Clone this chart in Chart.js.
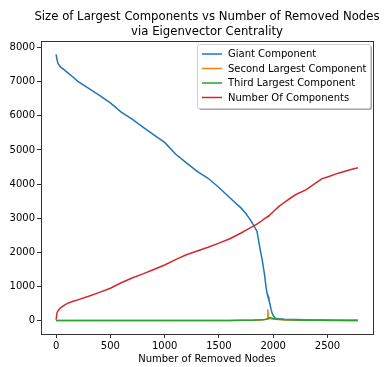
<!DOCTYPE html>
<html><head><meta charset="utf-8">
<script src="https://cdn.jsdelivr.net/npm/chart.js@4"></script>
<style>html,body{margin:0;padding:0;background:#fff}#wrap{width:384px;height:367px;position:relative}</style>
</head><body><div id="wrap"><canvas id="c" width="384" height="367"></canvas></div>
<script>
const titleLines = ['Size of Largest Components vs Number of Removed Nodes', 'via Eigenvector Centrality'];
const xAxisTitle = 'Number of Removed Nodes';
const seriesNames = ['Giant Component', 'Second Largest Component', 'Third Largest Component', 'Number Of Components'];
const seriesColors = ['#1f77b4', '#ff7f0e', '#2ca02c', '#d62728'];
const xTicks = [0, 500, 1000, 1500, 2000, 2500];
const yTicks = [0, 1000, 2000, 3000, 4000, 5000, 6000, 7000, 8000];

const removedNodes = [0, 10, 20, 40, 70, 100, 150, 200, 300, 400, 500, 600, 700, 800, 900, 1000, 1100, 1200, 1300, 1400, 1500, 1600, 1700, 1750, 1800, 1850, 1880, 1900, 1920, 1935, 1945, 1950, 1955, 1960, 1970, 1980, 1990, 2000, 2020, 2050, 2100, 2200, 2300, 2400, 2450, 2500, 2600, 2700, 2780];
const giant = [7800, 7620, 7520, 7430, 7360, 7280, 7150, 7010, 6800, 6600, 6380, 6110, 5900, 5670, 5440, 5220, 4880, 4620, 4370, 4170, 3900, 3600, 3310, 3130, 2900, 2620, 2080, 1750, 1350, 950, 780, 720, 700, 620, 480, 330, 220, 150, 70, 55, 45, 35, 28, 22, 20, 17, 14, 11, 9];
const second = [1, 2, 2, 3, 3, 3, 3, 4, 4, 4, 4, 5, 5, 5, 5, 5, 6, 6, 6, 7, 7, 8, 10, 12, 15, 20, 25, 30, 35, 40, 45, 330, 80, 70, 60, 55, 50, 45, 40, 35, 28, 20, 15, 12, 11, 10, 9, 8, 7];
const third = [1, 2, 2, 2, 3, 3, 3, 3, 3, 4, 4, 4, 4, 4, 5, 5, 5, 5, 5, 6, 6, 7, 9, 11, 14, 18, 22, 28, 35, 45, 55, 60, 70, 85, 90, 85, 75, 65, 50, 40, 28, 18, 12, 10, 9, 8, 7, 6, 5];
const numComponents = [30, 250, 300, 375, 440, 500, 560, 610, 715, 830, 950, 1110, 1250, 1370, 1500, 1630, 1790, 1930, 2040, 2150, 2270, 2400, 2560, 2650, 2740, 2830, 2890, 2940, 2990, 3020, 3040, 3050, 3060, 3075, 3100, 3130, 3160, 3190, 3250, 3340, 3460, 3680, 3830, 4050, 4160, 4210, 4320, 4410, 4480];

const seriesValues = [giant, second, third, numComponents];
const FONT = "'DejaVu Sans', sans-serif";

const decor = {
  id: 'decor',
  afterDraw(chart) {
    const ctx = chart.ctx;
    const a = chart.chartArea;
    ctx.save();
    ctx.strokeStyle = '#333';
    ctx.lineWidth = 1;
    ctx.strokeRect(Math.round(a.left) + 0.5, Math.round(a.top) + 0.5, Math.round(a.right - a.left), Math.round(a.bottom - a.top));
    ctx.fillStyle = '#000';
    ctx.font = '11.7px ' + FONT;
    ctx.textAlign = 'center';
    ctx.textBaseline = 'middle';
    const cx = (a.left + a.right) / 2;
    titleLines.forEach((t, i) => ctx.fillText(t, cx, 17 + i * 15));
    const bx = 197, by = 44, bw = 173, bh = 64;
    ctx.fillStyle = 'rgba(77,77,77,0.5)';
    ctx.beginPath(); ctx.roundRect(bx + 2, by + 2, bw, bh, 2); ctx.fill();
    ctx.fillStyle = '#fff';
    ctx.strokeStyle = '#d0d0d0';
    ctx.beginPath(); ctx.roundRect(bx + 0.5, by + 0.5, bw, bh, 2); ctx.fill(); ctx.stroke();
    ctx.font = '10px ' + FONT;
    ctx.textAlign = 'left';
    chart.data.datasets.forEach((ds, i) => {
      const y = by + 10 + i * 14.5;
      ctx.strokeStyle = ds.borderColor;
      ctx.lineWidth = 1.5;
      ctx.beginPath(); ctx.moveTo(bx + 5, y); ctx.lineTo(bx + 25, y); ctx.stroke();
      ctx.fillStyle = '#000';
      ctx.fillText(ds.label, bx + 31, y + 0.5);
    });
    ctx.restore();
  }
};

new Chart(document.getElementById('c'), {
  type: 'line',
  data: {
    datasets: seriesNames.map((name, k) => ({
      label: name,
      data: removedNodes.map((x, i) => ({ x: x, y: seriesValues[k][i] })),
      borderColor: seriesColors[k],
      backgroundColor: seriesColors[k],
      borderWidth: 1.5,
      pointRadius: 0,
      tension: 0,
      fill: false,
      order: seriesNames.length - k
    }))
  },
  options: {
    responsive: false,
    animation: false,
    devicePixelRatio: 1,
    layout: { padding: { top: 41, right: 11, left: 0, bottom: 0 } },
    plugins: { legend: { display: false }, title: { display: false }, tooltip: { enabled: false } },
    scales: {
      x: {
        type: 'linear', min: -139, max: 2919,
        afterBuildTicks: s => { s.ticks = xTicks.map(v => ({ value: v })); },
        afterFit: s => { s.height = 33; },
        border: { display: false },
        grid: { display: true, drawOnChartArea: false, drawTicks: true, tickLength: 4, color: '#333' },
        ticks: { padding: 2, color: '#000', font: { family: FONT, size: 10 }, maxRotation: 0, callback: v => String(v) },
        title: { display: true, text: xAxisTitle, color: '#000', font: { family: FONT, size: 10 }, padding: { top: 0, bottom: 2 } }
      },
      y: {
        type: 'linear', min: -390, max: 8190,
        afterBuildTicks: s => { s.ticks = yTicks.map(v => ({ value: v })); },
        afterFit: s => { s.width = 41; },
        border: { display: false },
        grid: { display: true, drawOnChartArea: false, drawTicks: true, tickLength: 4, color: '#333' },
        ticks: { padding: 2, color: '#000', font: { family: FONT, size: 10 }, callback: v => String(v) }
      }
    }
  },
  plugins: [decor]
});
</script></body></html>
